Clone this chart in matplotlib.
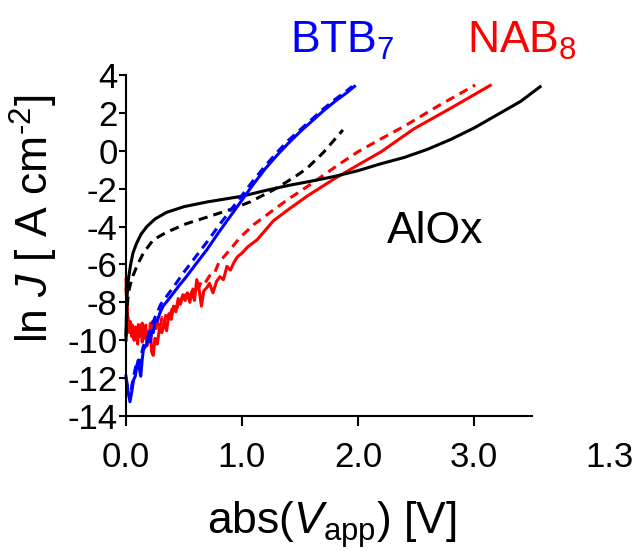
import numpy as np
import matplotlib
matplotlib.use("Agg")
import matplotlib.pyplot as plt

plt.rcParams['font.family'] = ['Liberation Sans', 'DejaVu Sans']
plt.rcParams['mathtext.fontset'] = 'custom'
plt.rcParams['mathtext.rm'] = 'Liberation Sans'
plt.rcParams['mathtext.it'] = 'Liberation Sans:italic'

# AlOx junction, solid and dashed traces
alox_x = [0, 0.003, 0.01, 0.02, 0.04, 0.06, 0.09, 0.13, 0.18, 0.25, 0.35, 0.5, 0.7, 0.85,
          1.0, 1.2, 1.4, 1.6, 1.8, 2.0, 2.2, 2.4, 2.6, 2.8, 3.0, 3.2, 3.4, 3.57]
alox_y = [-10, -8.8, -7.6, -6.8, -6.0, -5.4, -4.9, -4.4, -4.0, -3.6, -3.25, -2.95, -2.7, -2.55,
          -2.4, -2.1, -1.83, -1.6, -1.35, -1.05, -0.68, -0.35, 0.08, 0.6, 1.2, 1.9, 2.6, 3.38]
alox_d_x = [0, 0.01, 0.02, 0.04, 0.06, 0.1, 0.15, 0.235, 0.35, 0.52, 0.7, 0.9, 1.07, 1.27,
            1.45, 1.56, 1.7, 1.87]
alox_d_y = [-9.8, -8.3, -7.5, -7.0, -6.6, -6.0, -5.4, -4.7, -4.3, -3.85, -3.5, -3.1, -2.7, -2.07,
            -1.4, -0.93, -0.1, 1.1]

# BTB7
btb_x = [0, 0.015, 0.034, 0.05, 0.065, 0.08, 0.095, 0.106, 0.118, 0.127, 0.14, 0.15, 0.17, 0.19,
         0.21, 0.22, 0.235, 0.25, 0.27, 0.29, 0.32, 0.36, 0.41, 0.46, 0.52, 0.6, 0.7, 0.8, 0.9,
         1.0, 1.1, 1.2, 1.3, 1.4, 1.5, 1.6, 1.7, 1.8, 1.9, 1.97]
btb_y = [-11.9, -12.6, -13.25, -12.7, -12.1, -11.9, -11.3, -11.05, -11.6, -11.9, -11.0, -10.5,
         -10.3, -10.0, -10.1, -9.5, -9.6, -8.9, -9.0, -8.6, -8.2, -7.9, -7.5, -7.1, -6.65, -6.0,
         -5.2, -4.3, -3.45, -2.6, -1.75, -0.95, -0.25, 0.4, 1.0, 1.55, 2.1, 2.6, 3.05, 3.4]
btb_d_x = [0, 0.02, 0.035, 0.05, 0.07, 0.09, 0.11, 0.13, 0.15, 0.18, 0.21, 0.25, 0.3, 0.36, 0.42,
           0.5, 0.6, 0.7, 0.8, 0.9, 1.0, 1.1, 1.2, 1.3, 1.4, 1.5, 1.6, 1.7, 1.8, 1.9, 1.95]
btb_d_y = [-12.0, -12.8, -13.1, -12.4, -11.8, -11.2, -11.4, -10.8, -10.3, -10.0, -9.4, -8.8, -8.1,
           -7.6, -7.1, -6.4, -5.6, -4.8, -3.95, -3.15, -2.35, -1.55, -0.8, -0.1, 0.55, 1.1, 1.65,
           2.2, 2.7, 3.15, 3.4]

# NAB8
nab_x = [0, 0.005, 0.012, 0.02, 0.03, 0.04, 0.05, 0.06, 0.07, 0.08, 0.09, 0.1, 0.11, 0.12, 0.13,
         0.14, 0.15, 0.16, 0.17, 0.18, 0.19, 0.2, 0.21, 0.22, 0.235, 0.25, 0.27, 0.29, 0.31, 0.33,
         0.35, 0.37, 0.39, 0.41, 0.43, 0.45, 0.47, 0.49, 0.51, 0.53, 0.55, 0.57, 0.59, 0.61, 0.63,
         0.65, 0.67, 0.7, 0.72, 0.75, 0.78, 0.81, 0.84, 0.87, 0.9, 0.93, 0.96, 1.0, 1.05, 1.13,
         1.27, 1.4, 1.56, 1.79, 2.0, 2.2, 2.48, 2.8, 3.14]
nab_y = [-6.8, -7.6, -8.6, -9.0, -9.6, -9.1, -9.8, -9.3, -10.0, -9.4, -9.7, -10.2, -9.3, -9.8,
         -9.2, -10.1, -9.5, -9.9, -9.2, -10.3, -9.6, -10.0, -9.1, -10.6, -10.8, -9.9, -10.2, -9.3,
         -9.6, -9.0, -9.5, -8.6, -8.9, -8.2, -8.5, -7.8, -8.1, -7.6, -7.9, -7.5, -8.0, -7.4, -7.9,
         -6.8, -7.3, -8.2, -7.4, -7.2, -7.0, -7.5, -6.9, -6.65, -6.8, -6.1, -6.3, -5.9, -5.6, -5.4,
         -5.07, -4.7, -3.7, -3.1, -2.4, -1.5, -0.75, -0.05, 1.15, 2.25, 3.45]
nab_d_x = [0, 0.006, 0.015, 0.025, 0.035, 0.045, 0.055, 0.065, 0.08, 0.095, 0.11, 0.125, 0.14,
           0.155, 0.17, 0.185, 0.2, 0.215, 0.23, 0.25, 0.27, 0.29, 0.31, 0.33, 0.35, 0.38, 0.41,
           0.44, 0.47, 0.5, 0.53, 0.56, 0.59, 0.62, 0.65, 0.68, 0.72, 0.76, 0.8, 0.9, 0.98, 1.1,
           1.27, 1.4, 1.56, 1.7, 1.84, 2.0, 2.19, 2.4, 2.7, 3.01]
nab_d_y = [-7.2, -8.0, -8.8, -9.4, -9.0, -9.6, -9.2, -9.9, -9.3, -9.8, -9.0, -9.6, -9.1, -9.7,
           -9.4, -10.0, -9.5, -9.8, -9.0, -9.6, -9.1, -9.4, -8.8, -9.1, -8.5, -8.7, -8.1, -8.3,
           -7.7, -7.8, -7.4, -7.6, -7.1, -7.3, -6.9, -7.0, -6.6, -6.5, -5.9, -5.2, -4.6, -3.9,
           -3.13, -2.55, -1.9, -1.3, -0.7, -0.05, 0.6, 1.3, 2.4, 3.47]

xticks = [0, 1, 2, 3]
xticklabels = ["0.0", "1.0", "2.0", "3.0"]
yticks = np.arange(-14, 5, 2)
yticklabels = [f"{v:d}" for v in yticks]  # plain hyphen minus

fig = plt.figure(figsize=(6.37, 5.51), dpi=100)
ax = fig.add_axes([126 / 637, 1 - 416 / 551, 406 / 637, 341 / 551])

lw = 2.2
ax.plot(nab_x, nab_y, color="#ff0000", lw=lw, clip_on=False)
ax.plot(nab_d_x, nab_d_y, color="#ff0000", lw=lw, ls=(0, (3, 2)), clip_on=False)
ax.plot(alox_x, alox_y, color="black", lw=lw, clip_on=False)
ax.plot(alox_d_x, alox_d_y, color="black", lw=lw, ls=(0, (3, 2)), clip_on=False)
ax.plot(btb_x, btb_y, color="#0000ff", lw=lw, clip_on=False)
ax.plot(btb_d_x, btb_d_y, color="#0000ff", lw=lw, ls=(0, (3, 2)), clip_on=False)

ax.set_xlim(0, 3.5)
ax.set_ylim(-14, 4)
ax.set_xticks(xticks)
ax.set_xticklabels(xticklabels)
ax.set_yticks(yticks)
ax.set_yticklabels(yticklabels)
ax.spines["top"].set_visible(False)
ax.spines["right"].set_visible(False)
for s in ("left", "bottom"):
    ax.spines[s].set_linewidth(1.5)
ax.tick_params(axis="x", direction="out", length=7, width=1.5, pad=11, labelsize=25)
ax.tick_params(axis="y", direction="out", length=5, width=1.5, pad=1, labelsize=25)

fig.text(610 / 637, 1 - 467 / 551, "1.3", fontsize=25, ha="center", va="baseline")

fig.text(34 / 637, 1 - 219 / 551, r"ln $J$ [ A cm$^{\text{-2}}$]", fontsize=32,
         rotation=90, ha="center", va="center")
fig.text(332 / 637, 1 - 534 / 551, r"abs($V_{\mathrm{app}}$) [V]", fontsize=32,
         ha="center", va="baseline")

fig.text(290 / 637, 1 - 53 / 551, r"BTB$_{\mathrm{7}}$", fontsize=32, color="#0000ff",
         ha="left", va="baseline")
fig.text(467 / 637, 1 - 53 / 551, r"NAB$_{\mathrm{8}}$", fontsize=32, color="#ff0000",
         ha="left", va="baseline")
fig.text(387 / 637, 1 - 243 / 551, "AlOx", fontsize=32, color="black",
         ha="left", va="baseline")

fig.savefig("out.png", dpi=100)
